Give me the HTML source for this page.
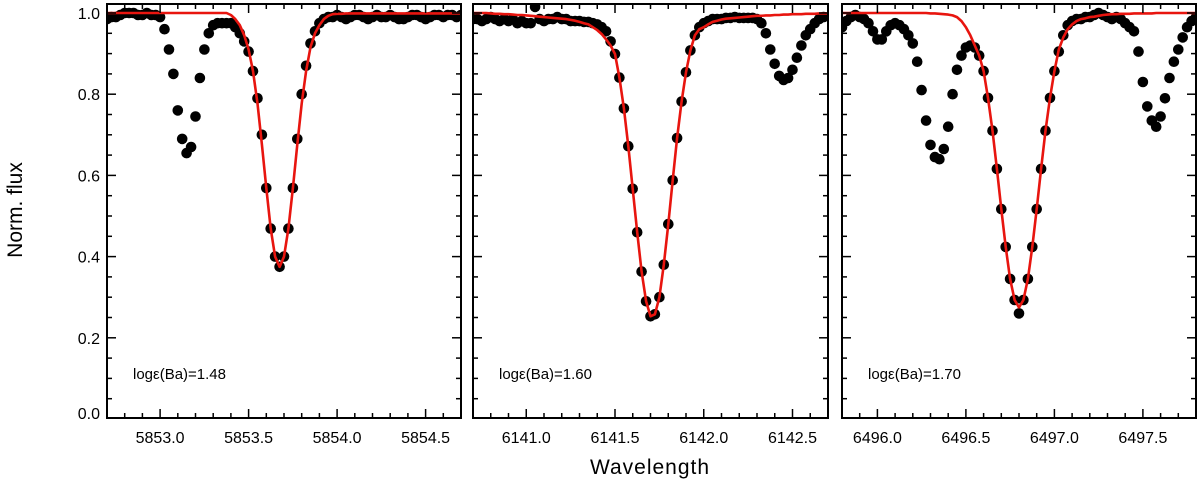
<!DOCTYPE html>
<html><head><meta charset="utf-8"><style>
html,body{margin:0;padding:0;background:#fff;}
svg{display:block;font-family:"Liberation Sans","DejaVu Sans",sans-serif;}
</style></head><body>
<svg id="chart" width="1200" height="482" viewBox="0 0 1200 482" xmlns="http://www.w3.org/2000/svg">
<g id="layer"></g>
<text x="22" y="210" font-size="21" text-anchor="middle" transform="rotate(-90 22 210)" fill="#000">Norm.  flux</text>
<text x="650" y="474" font-size="21" text-anchor="middle" fill="#000" letter-spacing="1">Wavelength</text>
</svg>
<script>
// ---- data (uniform wavelength grid per panel: start + i*step) ----
const panelStarts = [5852.70, 6140.70, 6495.80];
const gridStep = 0.025;
const panelLabels = ["log\u03B5(Ba)=1.48", "log\u03B5(Ba)=1.60", "log\u03B5(Ba)=1.70"];
const xTickLabels1 = ["5853.0","5853.5","5854.0","5854.5"];
const xTickLabels2 = ["6141.0","6141.5","6142.0","6142.5"];
const xTickLabels3 = ["6496.0","6496.5","6497.0","6497.5"];
const yTickLabels = ["0.0","0.2","0.4","0.6","0.8","1.0"];

const obs1 = [0.985,0.99,0.99,0.995,1.0,1.0,1.0,0.995,0.995,1.0,0.995,0.995,
 0.99,0.96,0.91,0.85,0.76,0.69,0.655,0.67,0.745,0.84,0.91,0.95,0.97,0.975,0.975,0.975,0.975,0.965,0.95,0.93,
 0.905,0.857,0.79,0.70,0.569,0.469,0.40,0.375,0.40,0.469,0.569,0.69,0.80,0.87,0.925,0.955,0.975,0.985,0.99,
 0.99,0.995,0.99,0.985,0.99,0.995,0.995,0.99,0.985,0.99,0.995,0.99,0.99,0.995,0.99,0.985,0.985,0.99,0.995,0.995,0.99,0.985,0.99,0.995,0.995,0.99,0.995,0.995,0.99,0.995];
const model1 = [1,1,1,1,1,1,1,1,1,1,1,1,1,1,1,1,1,1,1,1,1,1,1,1,1,1,1,1,
 0.995,0.985,0.97,0.945,0.91,0.857,0.777,0.676,0.569,0.469,0.40,0.375,0.40,0.469,0.569,0.676,0.777,0.857,0.916,0.95,0.97,0.985,0.993,0.997,
 0.998,0.998,0.999,0.999,0.999,0.999,0.999,0.999,0.999,0.999,0.999,0.999,0.999,0.999,0.999,0.999,0.999,0.999,0.999,0.999,0.999,0.999,0.999,0.999,0.999,0.999,0.999,0.999,0.999];

const obs2 = [0.985,0.985,0.98,0.985,0.99,0.985,0.98,0.985,0.98,0.985,0.975,0.98,0.975,0.975,1.015,0.985,0.98,0.985,0.985,0.99,0.985,0.985,0.98,0.98,0.98,0.978,0.978,
 0.975,0.972,0.965,0.955,0.93,0.899,0.841,0.765,0.672,0.567,0.46,0.363,0.29,0.253,0.258,0.30,0.38,0.48,0.588,0.692,0.782,0.854,0.908,0.945,0.965,
 0.975,0.98,0.985,0.985,0.985,0.988,0.988,0.99,0.988,0.988,0.988,0.988,0.985,0.975,0.95,0.91,0.875,0.845,0.835,0.84,0.86,0.89,0.92,0.945,0.96,0.975,0.985,0.99];
const model2 = [1.0,1.0,1.0,1.0,0.999,0.998,0.998,0.997,0.997,0.996,0.995,0.995,0.994,0.993,0.992,0.991,0.99,0.989,0.988,0.987,0.986,0.985,0.983,0.981,0.978,0.975,0.972,
 0.965,0.958,0.948,0.935,0.92,0.899,0.841,0.765,0.672,0.567,0.46,0.363,0.29,0.253,0.258,0.30,0.38,0.48,0.588,0.692,0.782,0.854,0.908,0.945,0.96,
 0.965,0.972,0.978,0.981,0.984,0.986,0.987,0.988,0.989,0.99,0.991,0.992,0.993,0.993,0.994,0.994,0.995,0.995,0.996,0.996,0.997,0.997,0.997,0.998,0.998,0.998,0.999,0.999,0.999,0.999];

const obs3 = [0.965,0.98,0.99,0.995,0.99,0.985,0.975,0.955,0.935,0.935,0.955,0.97,0.975,0.97,0.96,0.945,0.925,0.88,0.81,0.735,0.675,0.645,0.64,0.665,0.72,0.80,0.86,0.895,0.915,0.92,0.915,0.895,
 0.857,0.791,0.71,0.616,0.517,0.424,0.345,0.293,0.26,0.293,0.345,0.424,0.517,0.616,0.71,0.791,0.857,0.905,0.945,0.97,0.98,0.985,0.985,0.99,0.99,0.995,1.0,0.995,0.99,0.985,0.99,
 0.985,0.975,0.965,0.955,0.905,0.83,0.77,0.735,0.72,0.745,0.79,0.84,0.88,0.91,0.94,0.965,0.98,0.99];
const model3 = [1,1,1,1,1,1,1,1,1,1,1,1,1,1,1,1,1,1,1,1,0.999,0.999,0.998,0.997,0.996,0.994,0.99,0.98,0.965,0.945,0.92,0.895,
 0.857,0.791,0.71,0.616,0.517,0.424,0.345,0.293,0.275,0.293,0.345,0.424,0.517,0.616,0.71,0.791,0.857,0.91,0.94,0.96,0.972,0.98,0.985,0.987,0.99,0.991,0.993,0.995,0.996,0.997,
 0.997,0.998,0.998,0.998,0.999,0.999,0.999,0.999,0.999,1,1,1,1,1,1,1,1,1,1];

const observed = [obs1, obs2, obs3];
const models = [model1, model2, model3];
const tickLabelSets = [xTickLabels1, xTickLabels2, xTickLabels3];

// ---- layout ----
const NS = "http://www.w3.org/2000/svg";
const layer = document.getElementById('layer');
const panelBoxes = [[107,461],[473,828],[842,1196]];
const TOP = 4, BOT = 418;
function yScale(v){ return 419 - 406*v; }
function mk(tag, attrs, parent){
  const e = document.createElementNS(NS, tag);
  for (const k in attrs) e.setAttribute(k, attrs[k]);
  (parent||layer).appendChild(e);
  return e;
}

for (let p=0; p<3; p++){
  const [x0,x1] = panelBoxes[p];
  const w0 = panelStarts[p], w1 = w0 + 2.0;
  const xScale = w => x0 + (w - w0) / (w1 - w0) * (x1 - x0);
  const g = mk('g', {});
  
  

  const cp = mk('clipPath', {id:'clip'+p}, g);
  mk('rect', {x:x0, y:TOP, width:x1-x0, height:BOT-TOP}, cp);
  const plot = mk('g', {'clip-path':'url(#clip'+p+')'}, g);

  const obs = observed[p];
  for (let i=0;i<obs.length;i++){
    const c = mk('circle', {cx:xScale(w0 + i*gridStep).toFixed(1), cy:yScale(obs[i]).toFixed(1), r:5.3, fill:'#000'}, plot);
    
    
  }
  const mod = models[p];
  let d = '';
  for (let i=0;i<mod.length;i++){
    d += (i?'L':'M') + xScale(w0 + i*gridStep).toFixed(1) + ',' + yScale(mod[i]).toFixed(1);
  }
  const line = mk('path', {d:d, fill:'none', stroke:'#e8150f', 'stroke-width':2.6, 'stroke-linejoin':'round'}, plot);
  
  

  const fr = mk('rect', {x:x0, y:TOP, width:x1-x0, height:BOT-TOP, fill:'none', stroke:'#000', 'stroke-width':2}, g);
  
  

  const firstTick = Math.ceil((w0+1e-6)*10)/10;
  for (let t=firstTick; t<w1-1e-6; t+=0.1){
    const tr = Math.round(t*10)/10;
    const major = Math.abs(tr*2 - Math.round(tr*2)) < 1e-6;
    const len = major ? 9 : 5;
    const x = xScale(tr);
    mk('line', {x1:x, y1:BOT, x2:x, y2:BOT-len, stroke:'#000', 'stroke-width':1.5}, g);
    mk('line', {x1:x, y1:TOP, x2:x, y2:TOP+len, stroke:'#000', 'stroke-width':1.5}, g);
  }
  const labs = tickLabelSets[p];
  for (let k=0;k<labs.length;k++){
    const t = mk('text', {x:xScale(parseFloat(labs[k])), y:443, 'font-size':16, 'text-anchor':'middle', fill:'#000'}, g);
    t.textContent = labs[k];
    
    
  }
  for (let k=0;k<=20;k++){
    const v = k*0.05;
    const major = k%4===0;
    const len = major ? 9 : 5;
    const y = yScale(v);
    if (y < TOP || y > BOT) continue;
    mk('line', {x1:x0, y1:y, x2:x0+len, y2:y, stroke:'#000', 'stroke-width':1.5}, g);
    mk('line', {x1:x1, y1:y, x2:x1-len, y2:y, stroke:'#000', 'stroke-width':1.5}, g);
  }
  if (p===0){
    for (let k=0;k<yTickLabels.length;k++){
      const v = parseFloat(yTickLabels[k]);
      const yy = k===0 ? 419 : yScale(v)+6;
      const t = mk('text', {x:100, y:yy, 'font-size':16, 'text-anchor':'end', fill:'#000'}, g);
      t.textContent = yTickLabels[k];
      
      
    }
  }
  const ann = mk('text', {x:x0+26, y:379, 'font-size':15, fill:'#000'}, g);
  ann.textContent = panelLabels[p];
  
  
}
</script>
</body></html>
